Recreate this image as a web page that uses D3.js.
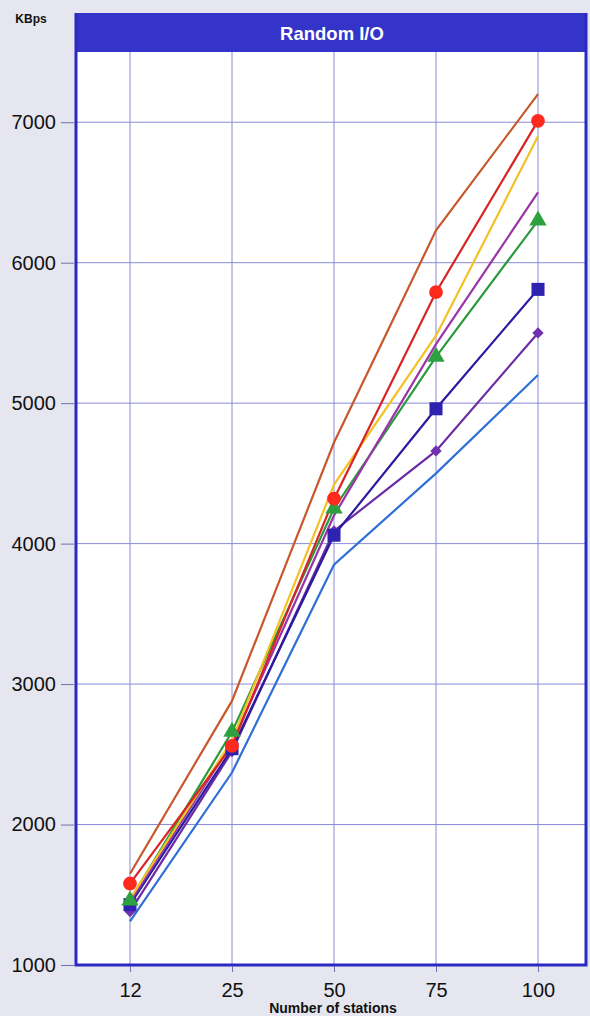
<!DOCTYPE html>
<html>
<head>
<meta charset="utf-8">
<script src="https://cdn.jsdelivr.net/npm/d3@7/dist/d3.min.js"></script>
<style>
  html, body { margin: 0; padding: 0; background: #e6e6f0; }
  svg { display: block; font-family: "Liberation Sans", Arial, sans-serif; }
</style>
</head>
<body>
<svg id="chart"></svg>
<script>
let w = 590
let h = 1016

// data
let stations = ['12', '25', '50', '75', '100']
let yTicks = [1000, 2000, 3000, 4000, 5000, 6000, 7000]

let seriesOrange = [1650, 2880, 4720, 6230, 7200]
let seriesRed = [1580, 2560, 4320, 5790, 7010]
let seriesYellow = [1470, 2600, 4420, 5480, 6900]
let seriesPurple = [1450, 2580, 4200, 5420, 6500]
let seriesGreen = [1460, 2660, 4250, 5330, 6300]
let seriesSquare = [1430, 2540, 4060, 4960, 5810]
let seriesDiamond = [1380, 2520, 4090, 4660, 5500]
let seriesBlue = [1310, 2370, 3850, 4500, 5200]

let series = [
  { values: seriesBlue, color: '#2f6fd6', marker: null },
  { values: seriesDiamond, color: '#6c2ca6', marker: 'diamond' },
  { values: seriesSquare, color: '#2a1c9e', marker: 'square' },
  { values: seriesGreen, color: '#2a9a3c', marker: 'triangle' },
  { values: seriesPurple, color: '#9a34a8', marker: null },
  { values: seriesYellow, color: '#f2c224', marker: null },
  { values: seriesRed, color: '#d82424', marker: 'circle' },
  { values: seriesOrange, color: '#c8582c', marker: null }
]

let frameLeft = 76
let frameRight = 586
let frameTop = 13
let plotTop = 52
let plotBottom = 965

let svg = d3.select('#chart').attr('width', w).attr('height', h)

let xScale = d3.scalePoint().domain(stations).range([130, 538])
let yScale = d3.scaleLinear().domain([1000, 7500]).range([plotBottom, plotTop])

// plot background
svg.append('rect')
   .attr('x', frameLeft).attr('y', plotTop)
   .attr('width', frameRight - frameLeft).attr('height', plotBottom - plotTop)
   .attr('fill', '#ffffff')

// grid
let grid = svg.append('g')
grid.selectAll('line.v')
    .data(stations)
    .enter()
    .append('line')
    .attr('x1', (d) => xScale(d)).attr('x2', (d) => xScale(d))
    .attr('y1', plotTop).attr('y2', plotBottom)
    .attr('stroke', '#8a8ad8').attr('stroke-width', 1)
grid.selectAll('line.h')
    .data(yTicks.slice(1))
    .enter()
    .append('line')
    .attr('x1', frameLeft).attr('x2', frameRight)
    .attr('y1', (d) => yScale(d)).attr('y2', (d) => yScale(d))
    .attr('stroke', '#8a8ad8').attr('stroke-width', 1)

// title bar
svg.append('rect')
   .attr('x', frameLeft - 1).attr('y', frameTop)
   .attr('width', frameRight - frameLeft + 2).attr('height', plotTop - frameTop)
   .attr('fill', '#3434c8')
svg.append('text')
   .attr('x', 332).attr('y', 40)
   .attr('text-anchor', 'middle')
   .attr('fill', '#ffffff')
   .attr('font-size', 18.5).attr('font-weight', 'bold')
   .text('Random I/O')

// lines
let line = d3.line()
   .x((d, i) => xScale(stations[i]))
   .y((d) => yScale(d))

svg.selectAll('path.series')
   .data(series)
   .enter()
   .append('path')
   .attr('d', (s) => line(s.values))
   .attr('fill', 'none')
   .attr('stroke', (s) => s.color)
   .attr('stroke-width', 2.2)

// markers
let symbolFor = {
  circle: d3.symbol().type(d3.symbolCircle).size(150),
  square: d3.symbol().type(d3.symbolSquare).size(170),
  triangle: d3.symbol().type(d3.symbolTriangle).size(130),
  diamond: d3.symbol().type(d3.symbolSquare).size(64)
}
let markerColor = { circle: '#ff2a1e', square: '#2e22b0', triangle: '#2ea040', diamond: '#7030b0' }

series.filter((s) => s.marker).forEach((s) => {
  svg.append('g').selectAll('path')
     .data(s.values)
     .enter()
     .append('path')
     .attr('transform', (d, i) => 'translate(' + xScale(stations[i]) + ',' + yScale(d) + ')'
        + (s.marker == 'diamond' ? ' rotate(45)' : ''))
     .attr('d', symbolFor[s.marker]())
     .attr('fill', markerColor[s.marker])
})

// frame
svg.append('path')
   .attr('d', 'M' + frameLeft + ',' + frameTop + 'V' + plotBottom + 'H' + frameRight + 'V' + frameTop)
   .attr('fill', 'none')
   .attr('stroke', '#2a2ac0')
   .attr('stroke-width', 3)

// y axis
let yAxis = d3.axisLeft(yScale).tickValues(yTicks).tickFormat(d3.format('d')).tickSize(13).tickPadding(5)
let gy = svg.append('g')
   .attr('transform', 'translate(' + (frameLeft - 2) + ',0)')
   .call(yAxis)
gy.select('.domain').remove()
gy.selectAll('line').attr('stroke', '#7070b0')
gy.selectAll('text')
   .attr('font-size', 20)
   .attr('fill', '#111111')
   .attr('font-family', '"Liberation Sans", Arial, sans-serif')

// x axis
let xAxis = d3.axisBottom(xScale).tickSize(6).tickPadding(11)
let gx = svg.append('g')
   .attr('transform', 'translate(0,' + (plotBottom + 1) + ')')
   .call(xAxis)
gx.select('.domain').remove()
gx.selectAll('line').attr('stroke', '#7070b0')
gx.selectAll('text')
   .attr('font-size', 20)
   .attr('fill', '#111111')
   .attr('font-family', '"Liberation Sans", Arial, sans-serif')

svg.append('text')
   .attr('x', 333).attr('y', 1013)
   .attr('text-anchor', 'middle')
   .attr('font-size', 14).attr('font-weight', 'bold')
   .attr('fill', '#111111')
   .text('Number of stations')

svg.append('text')
   .attr('x', 31).attr('y', 23)
   .attr('text-anchor', 'middle')
   .attr('font-size', 12).attr('font-weight', 'bold')
   .attr('fill', '#111111')
   .text('KBps')
</script>
</body>
</html>
